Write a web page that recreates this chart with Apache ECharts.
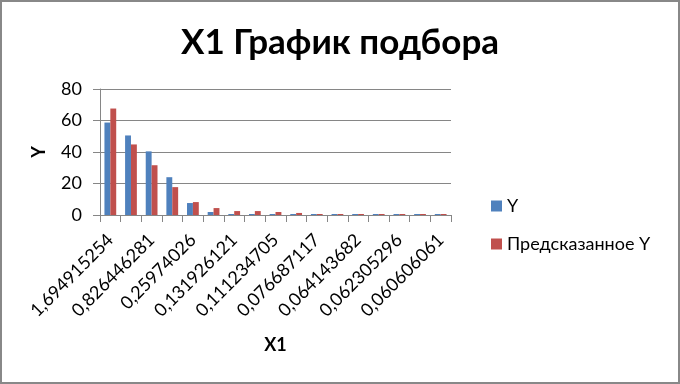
<!DOCTYPE html>
<html><head><meta charset="utf-8">
<script src="https://cdn.jsdelivr.net/npm/echarts@6/dist/echarts.min.js"></script>
<style>html,body{margin:0;padding:0;background:#fff}#c{width:676px;height:380px;border:2px solid #888;}</style>
</head><body><div id="c"></div>
<script>
var categories = ['1,694915254','1,098901099','0,826446281','0,416666667','0,25974026','0,178571429','0,131926121','0,120481928','0,111234705','0,090909091','0,076687117','0,068493151','0,064143682','0,063091483','0,062305296','0,061349693','0,060606061'];
var yValues = [58.7, 50.5, 40.4, 24.0, 7.6, 1.9, 0.63, 0.63, 0.63, 0.63, 0.63, 0.63, 0.63, 0.63, 0.63, 0.63, 0.63];
var predictedY = [67.6, 44.8, 31.6, 17.7, 8.2, 4.4, 2.5, 2.5, 1.9, 1.3, 0.63, 0.63, 0.63, 0.63, 0.63, 0.63, 0.63];
var yTicks = {min: 0, max: 80, interval: 20};

var chart = echarts.init(document.getElementById('c'), null, {renderer: 'canvas'});
var font = 'Lato';
chart.setOption({
  animation: false,
  backgroundColor: '#fff',
  title: {text: 'X1 График подбора', left: 'center', top: 18,
    textStyle: {fontFamily: font, fontWeight: 'bold', fontSize: 35, color: '#000'}},
  legend: {orient: 'vertical', left: 484, top: 190, itemWidth: 11, itemHeight: 11, itemGap: 20,
    icon: 'rect', textStyle: {fontFamily: font, fontSize: 18, color: '#000'},
    data: ['Y', 'Предсказанное Y']},
  grid: {left: 98, right: 227, top: 87, bottom: 167, containLabel: false},
  xAxis: {type: 'category', data: categories, name: 'X1', nameLocation: 'middle', nameGap: 121,
    nameTextStyle: {fontFamily: font, fontWeight: 'bold', fontSize: 18, color: '#000'},
    axisLine: {lineStyle: {color: '#868686', width: 1}},
    axisTick: {show: true, interval: 0, length: 7, lineStyle: {color: '#868686'}},
    axisLabel: {interval: 1, rotate: 45, margin: 22, fontFamily: font, fontSize: 18, color: '#000'}},
  yAxis: {type: 'value', min: yTicks.min, max: yTicks.max, interval: yTicks.interval,
    name: 'Y', nameLocation: 'middle', nameGap: 52, nameRotate: 90,
    nameTextStyle: {fontFamily: font, fontWeight: 'bold', fontSize: 18, color: '#000'},
    axisLine: {show: true, lineStyle: {color: '#868686'}},
    axisTick: {show: true, length: 7, lineStyle: {color: '#868686'}},
    splitLine: {lineStyle: {color: '#868686', width: 1}},
    axisLabel: {margin: 18, fontFamily: font, fontSize: 18, color: '#000'}},
  series: [
    {name: 'Y', type: 'bar', data: yValues, barGap: '0%', barCategoryGap: '43%', itemStyle: {color: '#4F81BD'}},
    {name: 'Предсказанное Y', type: 'bar', data: predictedY, barGap: '0%', barCategoryGap: '43%', itemStyle: {color: '#C0504D'}}
  ]
});
</script></body></html>
